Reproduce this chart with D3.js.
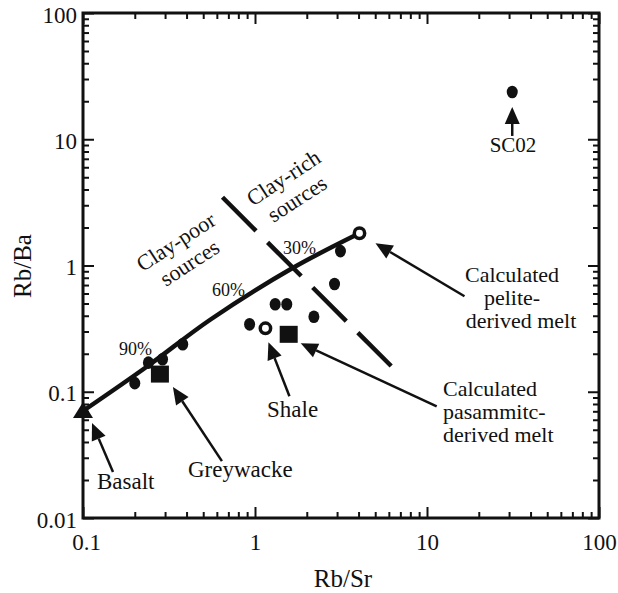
<!DOCTYPE html>
<html><head><meta charset="utf-8">
<script src="https://cdn.jsdelivr.net/npm/d3@7"></script>
<style>
html,body{margin:0;padding:0;background:#fff;}
text{font-family:"Liberation Serif","Times New Roman",serif;fill:#111;}
</style></head>
<body><svg id="c" width="618" height="593"></svg>
<script>
// ---- data ----
const xTickValues = [0.1, 1, 10, 100];
const xTickLabels = ["0.1", "1", "10", "100"];
const yTickValues = [0.01, 0.1, 1, 10, 100];
const yTickLabels = ["0.01", "0.1", "1", "10", "100"];
// samples (filled circles)
const sampleRbSr = [0.20, 0.24, 0.29, 0.38, 0.93, 1.31, 1.53, 2.2, 2.9, 3.14, 31.3];
const sampleRbBa = [0.117, 0.17, 0.181, 0.238, 0.342, 0.493, 0.493, 0.393, 0.713, 1.30, 23.7];
// open circles: pelite-derived melt, shale
const openNames = ["pelite", "shale"];
const openRbSr = [4.05, 1.15];
const openRbBa = [1.8, 0.318];
// squares: greywacke, pasammitic melt
const squareNames = ["greywacke", "pasammitic"];
const squareRbSr = [0.28, 1.57];
const squareRbBa = [0.138, 0.285];
// triangle: basalt
const basaltRbSr = [0.1];
const basaltRbBa = [0.0704];
// mixing curve basalt -> pelite melt
const mixRbSr = [0.1, 0.238, 0.546, 1.655, 4.05];
const mixRbBa = [0.0704, 0.16, 0.37, 0.955, 1.8];
// clay-poor / clay-rich boundary
const boundRbSr = [0.647, 6.19];
const boundRbBa = [3.47, 0.160];

// ---- layout ----
const svg = d3.select("#c");
const L = 83, R = 599, T = 13, B = 518;
const x = d3.scaleLog().domain([0.1, 100]).range([L, R]);
const y = d3.scaleLog().domain([0.01, 100]).range([B, T]);

function minorTicks(dom) {
  const out = [];
  for (let e = Math.log10(dom[0]); e < Math.log10(dom[1]); e++) {
    for (let k = 2; k <= 9; k++) out.push(k * Math.pow(10, e));
  }
  return out;
}
const xMinor = minorTicks([0.1, 100]);
const yMinor = minorTicks([0.01, 100]);

const axisStyle = g => {
  g.attr("font-family", "Liberation Serif");
  g.select(".domain").remove();
  g.selectAll(".tick line").attr("stroke", "#111").attr("stroke-width", 2);
};

// bottom
svg.append("g").attr("transform", `translate(0,${B})`)
  .call(d3.axisBottom(x).tickValues(xMinor).tickSize(-6).tickFormat(""))
  .call(axisStyle);
const bx = svg.append("g").attr("transform", `translate(0,${B})`)
  .call(d3.axisBottom(x).tickValues(xTickValues).tickSize(-11).tickPadding(16)
        .tickFormat((d, i) => xTickLabels[i]))
  .call(axisStyle);
bx.selectAll("text").attr("font-size", 23).attr("fill", "#111");
bx.selectAll(".tick text").filter((d,i)=>i===0).attr("dx", 3);
// top
svg.append("g").attr("transform", `translate(0,${T})`)
  .call(d3.axisTop(x).tickValues(xMinor).tickSize(-6).tickFormat(""))
  .call(axisStyle);
svg.append("g").attr("transform", `translate(0,${T})`)
  .call(d3.axisTop(x).tickValues(xTickValues).tickSize(-11).tickFormat(""))
  .call(axisStyle);
// left
svg.append("g").attr("transform", `translate(${L},0)`)
  .call(d3.axisLeft(y).tickValues(yMinor).tickSize(-6).tickFormat(""))
  .call(axisStyle);
const ly = svg.append("g").attr("transform", `translate(${L},0)`)
  .call(d3.axisLeft(y).tickValues(yTickValues).tickSize(-11).tickPadding(6)
        .tickFormat((d, i) => yTickLabels[i]))
  .call(axisStyle);
ly.selectAll("text").attr("font-size", 23).attr("fill", "#111").attr("dy", "0.4em");
// right
svg.append("g").attr("transform", `translate(${R},0)`)
  .call(d3.axisRight(y).tickValues(yMinor).tickSize(-6).tickFormat(""))
  .call(axisStyle);
svg.append("g").attr("transform", `translate(${R},0)`)
  .call(d3.axisRight(y).tickValues(yTickValues).tickSize(-11).tickFormat(""))
  .call(axisStyle);

// frame
svg.append("rect").attr("x", L).attr("y", T).attr("width", R - L).attr("height", B - T)
  .attr("fill", "none").attr("stroke", "#111").attr("stroke-width", 3);

// axis titles
svg.append("text").attr("x", (L + R) / 2 + 2).attr("y", 587).attr("text-anchor", "middle")
  .attr("font-size", 25).text("Rb/Sr");
svg.append("text").attr("transform", `translate(31,266) rotate(-90)`).attr("text-anchor", "middle")
  .attr("font-size", 25).text("Rb/Ba");

// boundary dashed line
svg.append("line")
  .attr("x1", x(boundRbSr[0])).attr("y1", y(boundRbBa[0]))
  .attr("x2", x(boundRbSr[1])).attr("y2", y(boundRbBa[1]))
  .attr("stroke", "#111").attr("stroke-width", 4.5).attr("stroke-dasharray", "47.5,16.3");

// mixing curve
const mix = mixRbSr.map((v, i) => [v, mixRbBa[i]]);
svg.append("path").datum(mix)
  .attr("d", d3.line().x(d => x(d[0])).y(d => y(d[1])).curve(d3.curveCatmullRom.alpha(0.5)))
  .attr("fill", "none").attr("stroke", "#111").attr("stroke-width", 4.5);

// samples
svg.append("g").selectAll("ellipse").data(sampleRbSr).join("ellipse")
  .attr("cx", (d, i) => x(d)).attr("cy", (d, i) => y(sampleRbBa[i]))
  .attr("rx", 5.5).attr("ry", 6.3).attr("fill", "#111");

// open circles
svg.append("g").selectAll("circle").data(openRbSr).join("circle")
  .attr("cx", d => x(d)).attr("cy", (d, i) => y(openRbBa[i]))
  .attr("r", 5.2).attr("fill", "#fff").attr("stroke", "#111").attr("stroke-width", 3.5);

// squares
svg.append("g").selectAll("rect").data(squareRbSr).join("rect")
  .attr("x", d => x(d) - 9).attr("y", (d, i) => y(squareRbBa[i]) - 8.5)
  .attr("width", 18).attr("height", 17).attr("fill", "#111");

// basalt triangle
svg.append("g").selectAll("path").data(basaltRbSr).join("path")
  .attr("transform", (d, i) => `translate(${x(d)},${y(basaltRbBa[i])})`)
  .attr("d", "M0,-9 L10,7 L-10,7 Z").attr("fill", "#111");

// percent labels
const pct = [["90%", 119, 355], ["60%", 212, 296], ["30%", 283, 254]];
svg.append("g").selectAll("text").data(pct).join("text")
  .attr("x", d => d[1]).attr("y", d => d[2]).attr("font-size", 18).text(d => d[0]);

// rotated source labels
function rotLabel(cx, cy, lines) {
  const t = svg.append("text").attr("transform", `translate(${cx},${cy}) rotate(-33)`)
    .attr("text-anchor", "middle").attr("font-size", 22);
  lines.forEach((s, i) => t.append("tspan").attr("x", 0).attr("y", i * 25).text(s));
}
rotLabel(180, 248, ["Clay-poor", "sources"]);
rotLabel(287.5, 184, ["Clay-rich", "sources"]);

// arrows: anchored on marks with pixel offsets
function arrow(px, py, tipDx, tipDy, tailDx, tailDy) {
  const tx = px + tipDx, ty = py + tipDy, sx = px + tailDx, sy = py + tailDy;
  const ang = Math.atan2(ty - sy, tx - sx);
  const hl = 17, hw = 7.5;
  const bxp = tx - hl * Math.cos(ang), byp = ty - hl * Math.sin(ang);
  svg.append("line").attr("x1", sx).attr("y1", sy).attr("x2", bxp).attr("y2", byp)
    .attr("stroke", "#111").attr("stroke-width", 2.5);
  const nx = -Math.sin(ang), ny = Math.cos(ang);
  svg.append("path").attr("d",
    `M${tx},${ty} L${bxp + nx * hw},${byp + ny * hw} L${bxp - nx * hw},${byp - ny * hw} Z`)
    .attr("fill", "#111");
}
arrow(x(sampleRbSr[10]), y(sampleRbBa[10]), 0, 15, 0, 44);
arrow(x(basaltRbSr[0]), y(basaltRbBa[0]), 9, 12, 30, 61);
arrow(x(squareRbSr[0]), y(squareRbBa[0]), 13, 13, 62, 87);
arrow(x(openRbSr[1]), y(openRbBa[1]), 3, 14, 24, 68);
arrow(x(squareRbSr[1]), y(squareRbBa[1]), 12, 9, 148, 72);
arrow(x(openRbSr[0]), y(openRbBa[0]), 16, 10, 105, 63);

// annotation texts
const notes = [
  ["SC02", 513, 152, "middle", 21],
  ["Basalt", 97, 489, "start", 23],
  ["Greywacke", 188, 477, "start", 23],
  ["Shale", 267, 417, "start", 23],
  ["Calculated", 512, 282, "middle", 22],
  ["pelite-", 512, 305, "middle", 22],
  ["derived melt", 521, 328, "middle", 22],
  ["Calculated", 443, 396, "start", 22],
  ["pasammitc-", 443, 419, "start", 22],
  ["derived melt", 443, 442, "start", 22]
];
svg.append("g").selectAll("text").data(notes).join("text")
  .attr("x", d => d[1]).attr("y", d => d[2]).attr("text-anchor", d => d[3])
  .attr("font-family", "Liberation Serif")
  .attr("font-size", d => d[4]).text(d => d[0]);
</script></body></html>
